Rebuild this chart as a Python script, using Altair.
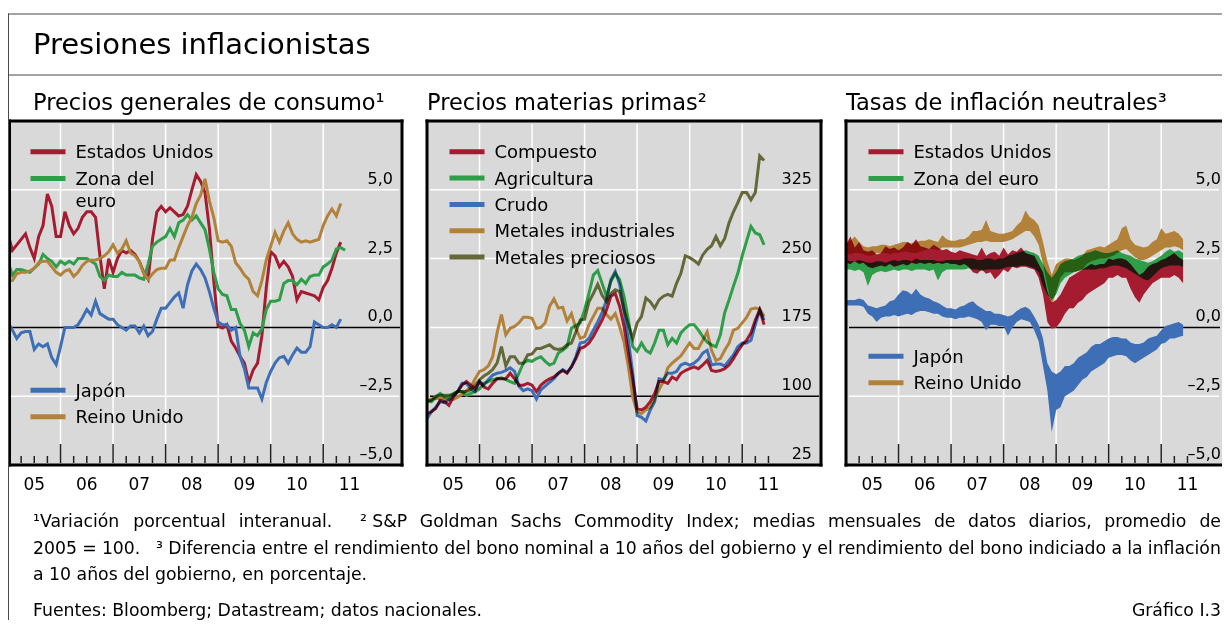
import altair as alt
import pandas as pd

FONT = "DejaVu Sans"
BG = "#d9d9d9"
FRAME = "#4a4a4a"
# colours as they appear on the grey panel
RED, GREEN, BLUE, GOLD, OLIVE = "#a51c30", "#2f9e48", "#3e6fb6", "#b3823a", "#656838"
# source colours for multiply blending over the grey panel (appearance = source x grey)
M_RED, M_GREEN, M_BLUE, M_GOLD, M_OLIVE = "#c22138", "#37ba55", "#4982d6", "#d29944", "#777a42"

MAIN_TITLE = "Presiones inflacionistas"
PANEL_TITLES = ["Precios generales de consumo¹", "Precios materias primas²", "Tasas de inflación neutrales³"]

# ---------------- Panel 1: CPI, % yoy (monthly from Jan 2005) ----------------
cpi_us = [3.4, 2.8, 3.0, 3.2, 3.4, 2.9, 2.5, 3.3, 3.7, 4.85,
          4.4, 3.3, 3.3, 4.2, 3.7, 3.4, 3.6, 4.0, 4.2, 4.2,
          4.0, 2.6, 1.4, 2.5, 2.0, 2.5, 2.8, 2.7, 2.8, 2.65,
          2.4, 2.0, 1.75, 3.2, 4.2, 4.4, 4.2, 4.35, 4.2, 4.05,
          4.1, 4.4, 5.0, 5.55, 5.3, 4.9, 3.6, 1.7, 0.05, -0.02,
          0.1, -0.5, -0.75, -1.05, -1.3, -2.0, -1.55, -1.3, -0.3, 1.45,
          2.75, 2.6, 2.2, 2.4, 2.2, 1.85, 1.0, 1.3, 1.25, 1.2,
          1.15, 1.0, 1.45, 1.7, 2.15, 2.7, 3.1]
cpi_ea = [2.4, 1.9, 2.1, 2.1, 2.05, 2.0, 2.15, 2.3, 2.65, 2.5,
          2.4, 2.2, 2.4, 2.3, 2.4, 2.3, 2.5, 2.5, 2.5, 2.4,
          2.3, 1.85, 1.7, 1.9, 1.85, 1.85, 2.0, 1.9, 1.9, 1.9,
          1.8, 1.75, 2.3, 2.95, 3.1, 3.2, 3.3, 3.6, 3.3, 3.8,
          3.9, 4.1, 3.9, 4.05, 3.8, 3.55, 2.85, 2.0, 1.4, 1.2,
          1.15, 0.65, 0.65, 0.15, -0.1, -0.7, -0.2, -0.3, -0.05, 0.65,
          0.95, 0.95, 1.0, 1.6, 1.7, 1.7, 1.55, 1.75, 1.6, 1.85,
          1.9, 1.9, 2.2, 2.3, 2.45, 2.85, 2.9, 2.8]
cpi_jp = [0.2, -0.1, -0.4, -0.2, -0.15, -0.15, -0.8, -0.6, -0.7, -0.6,
          -1.1, -1.35, -0.7, 0.0, 0.0, 0.0, 0.1, 0.35, 0.65, 0.45,
          0.95, 0.5, 0.4, 0.3, 0.3, 0.1, 0.0, -0.1, 0.05, 0.05,
          -0.2, 0.05, -0.3, -0.15, 0.3, 0.7, 0.7, 0.9, 1.1, 1.25,
          0.7, 1.55, 2.05, 2.3, 2.1, 1.8, 1.3, 0.7, 0.2, 0.1,
          0.1, -0.1, 0.0, -1.05, -1.5, -2.2, -2.2, -2.2, -2.6, -2.0,
          -1.6, -1.3, -1.1, -1.05, -1.3, -1.0, -0.75, -0.9, -0.9, -0.7,
          0.2, 0.1, 0.0, 0.0, 0.1, 0.0, 0.3]
cpi_uk = [1.7, 1.7, 1.95, 2.0, 2.0, 2.05, 2.15, 2.35, 2.4, 2.4,
          2.2, 2.0, 1.9, 2.05, 2.1, 1.85, 2.0, 2.25, 2.4, 2.45,
          2.45, 2.5, 2.6, 2.75, 3.0, 2.7, 2.85, 3.15, 2.7, 2.6,
          2.4, 1.95, 1.75, 1.95, 2.1, 2.15, 2.15, 2.45, 2.45, 2.9,
          3.3, 3.7, 4.0, 4.5, 4.8, 5.4, 4.6, 4.0, 3.15, 3.1,
          3.15, 2.95, 2.35, 2.15, 1.9, 1.75, 1.3, 1.15, 1.7, 2.45,
          2.95, 3.45, 3.1, 3.5, 3.8, 3.4, 3.2, 3.1, 3.15, 3.1,
          3.15, 3.2, 3.7, 4.05, 4.3, 4.05, 4.5]

# ---------------- Panel 2: S&P GSCI, 2005 = 100 ----------------
gs_comp = [81, 83, 86.5, 95.6, 94, 90, 99, 105, 112, 116,
           112, 108, 116, 110, 108, 114, 119, 119, 119, 125,
           119, 112, 112, 114, 112, 105, 112, 116, 119, 121,
           125, 128, 125, 132, 141, 152, 154, 158, 165, 174,
           183, 194, 209, 212, 198, 176, 147, 118, 86.5, 85,
           88, 94, 103, 116, 116, 114, 121, 118, 125, 128,
           130, 132, 130, 134, 139, 128, 127, 128, 130, 134,
           141, 149, 156, 161, 169, 183, 194, 178]
gs_agri = [95.6, 94, 99, 103, 99, 99, 103, 105, 105, 101,
           103, 105, 108, 114, 116, 118, 119, 120, 118, 116,
           114, 125, 136, 139, 138, 141, 143, 138, 134, 136,
           147, 150, 154, 174, 177, 180, 194, 212, 232, 237,
           223, 209, 225, 234, 227, 209, 183, 154, 149, 158,
           150, 147, 158, 172, 172, 156, 163, 158, 169, 174,
           178, 178, 172, 165, 159, 156, 154, 167, 191, 205,
           220, 234, 253, 269, 285, 278, 276, 265]
gs_crude = [75.5, 83, 88, 94, 93, 96, 100, 105, 114, 114,
            108, 105, 116, 112, 118, 123, 125, 126, 128, 131,
            127, 111, 106, 108, 106, 97, 107, 111, 115, 119,
            125, 129, 126, 132, 143, 158, 159, 163, 172, 181,
            191, 205, 227, 236, 222, 194, 161, 125, 79, 77,
            73, 85, 94, 119, 118, 125, 125, 127, 134, 136,
            134, 136, 140, 147, 150, 134, 135, 135, 133, 139,
            145, 154, 158, 158, 161, 178, 194, 183]
gs_indmet = [95.6, 96.7, 97.4, 97.4, 97.4, 96.3, 96.3, 99, 102, 106,
             110, 119, 127, 129, 133, 143, 169, 189, 167, 174,
             176, 180, 186, 186, 185, 174, 175, 180, 198, 206,
             196, 197, 182, 190, 174, 163, 165, 178, 187, 196,
             196, 189, 184, 190, 176, 159, 132, 99, 83, 81,
             85, 88, 97, 107, 116, 131, 136, 140, 144, 151,
             158, 152, 152, 161, 170, 150, 139, 141, 150, 158,
             172, 174, 180, 186, 195, 196, 195, 187]
gs_precmet = [93.8, 95.6, 100, 101, 101, 101, 102, 105, 105, 105,
              107, 112, 118, 122, 125, 129, 136, 154, 133, 143,
              143, 136, 136, 145, 146, 152, 152, 154, 156, 152,
              151, 152, 156, 158, 170, 183, 184, 203, 212, 222,
              210, 203, 212, 216, 214, 194, 178, 163, 180, 187,
              207, 203, 196, 205, 209, 211, 209, 223, 234, 253,
              251, 248, 244, 254, 260, 264, 274, 264, 272, 289,
              301, 311, 322, 322, 314, 322, 362, 357]

# ---------------- Panel 3: breakeven inflation, monthly low / high of daily data ----------------
be_us_lo = [2.35, 2.3, 2.4, 2.3, 2.35, 2.2, 2.15, 2.2, 2.25, 2.2,
            2.3, 2.2, 2.25, 2.3, 2.25, 2.35, 2.3, 2.35, 2.3, 2.35,
            2.3, 2.35, 2.3, 2.35, 2.3, 2.3, 2.25, 2.3, 2.2, 2.0,
            1.95, 2.1, 1.95, 2.0, 1.75, 1.9, 2.1, 2.0, 2.2, 2.15,
            2.2, 2.2, 2.15, 2.1, 1.8, 1.2, 0.2, -0.05, 0.0, 0.2,
            0.5, 0.7, 0.7, 0.9, 1.0, 1.2, 1.3, 1.4, 1.5, 1.6,
            1.8, 1.8, 1.9, 1.8, 1.8, 1.4, 1.1, 0.9, 1.2, 1.4,
            1.6, 1.7, 1.8, 1.8, 1.8, 1.9, 1.8, 1.6]
be_us_hi = [3.0, 3.3, 2.9, 3.1, 2.8, 2.75, 2.8, 2.65, 2.7, 2.95,
            2.85, 2.9, 2.8, 2.9, 3.1, 3.0, 3.2, 2.95, 2.9, 2.85,
            3.0, 2.9, 2.8, 2.85, 2.75, 2.7, 2.8, 2.75, 2.7, 2.65,
            2.6, 2.9, 2.6, 2.7, 2.75, 2.6, 2.9, 2.65, 2.8, 2.75,
            2.9, 2.7, 2.65, 2.6, 2.3, 2.0, 1.3, 0.9, 1.0, 1.2,
            1.5, 1.8, 1.9, 2.0, 2.1, 2.2, 2.3, 2.25, 2.3, 2.3,
            2.5, 2.45, 2.5, 2.5, 2.45, 2.3, 2.1, 1.9, 2.0, 2.2,
            2.3, 2.35, 2.45, 2.5, 2.6, 2.7, 2.55, 2.45]
be_ea_lo = [2.1, 2.1, 2.05, 2.1, 2.0, 1.5, 1.9, 2.0, 2.05, 2.0,
            2.05, 2.1, 2.05, 2.1, 2.1, 2.05, 2.1, 2.1, 2.1, 2.05,
            2.1, 1.7, 2.0, 2.1, 2.1, 2.1, 2.1, 2.1, 2.15, 2.1,
            2.1, 2.05, 2.1, 2.1, 2.1, 2.1, 2.15, 2.2, 2.2, 2.2,
            2.25, 2.25, 2.2, 2.15, 2.0, 1.5, 1.2, 1.0, 1.2, 1.6,
            1.8, 1.9, 2.0, 2.05, 2.1, 2.1, 2.1, 2.1, 2.15, 2.15,
            2.2, 2.25, 2.25, 2.2, 2.15, 2.05, 1.95, 1.85, 1.75, 1.7,
            1.85, 2.0, 2.15, 2.2, 2.25, 2.25, 2.25, 2.2]
be_ea_hi = [2.45, 2.4, 2.4, 2.45, 2.4, 2.35, 2.35, 2.4, 2.4, 2.35,
            2.4, 2.45, 2.4, 2.45, 2.45, 2.4, 2.5, 2.45, 2.45, 2.45,
            2.45, 2.4, 2.4, 2.45, 2.45, 2.45, 2.45, 2.5, 2.5, 2.5,
            2.45, 2.45, 2.5, 2.5, 2.45, 2.5, 2.5, 2.6, 2.65, 2.7,
            2.75, 2.8, 2.75, 2.7, 2.6, 2.3, 2.0, 1.8, 2.0, 2.3,
            2.4, 2.45, 2.5, 2.6, 2.65, 2.7, 2.75, 2.8, 2.75, 2.7,
            2.7, 2.75, 2.8, 2.7, 2.65, 2.6, 2.5, 2.45, 2.4, 2.35,
            2.4, 2.5, 2.6, 2.75, 2.85, 2.75, 2.8, 2.7]
be_uk_lo = [2.7, 2.65, 2.7, 2.7, 2.65, 2.6, 2.6, 2.7, 2.7, 2.7,
            2.65, 2.7, 2.7, 2.75, 2.75, 2.7, 2.7, 2.75, 2.8, 2.85,
            2.85, 2.8, 2.9, 2.9, 2.9, 2.9, 2.9, 2.95, 3.0, 3.05,
            3.1, 3.1, 3.15, 3.1, 3.1, 3.1, 3.1, 3.15, 3.2, 3.3,
            3.4, 3.5, 3.5, 3.3, 3.0, 2.3, 1.5, 0.8, 1.3, 1.8,
            2.0, 2.0, 2.0, 2.05, 2.1, 2.3, 2.4, 2.45, 2.5, 2.5,
            2.55, 2.6, 2.7, 2.8, 2.85, 2.7, 2.55, 2.45, 2.45, 2.5,
            2.6, 2.7, 2.8, 2.9, 2.9, 2.95, 2.9, 2.8]
be_uk_hi = [3.05, 3.15, 3.3, 3.1, 2.95, 2.9, 2.95, 2.95, 3.0, 3.0,
            2.95, 3.0, 3.05, 3.1, 3.1, 3.05, 3.1, 3.15, 3.15, 3.2,
            3.15, 3.1, 3.35, 3.2, 3.15, 3.15, 3.2, 3.2, 3.3, 3.5,
            3.5, 3.55, 3.9, 3.5, 3.45, 3.4, 3.4, 3.45, 3.5, 3.7,
            3.85, 4.25, 4.0, 3.9, 3.7, 3.1, 2.4, 1.9, 2.3, 2.4,
            2.5, 2.5, 2.45, 2.5, 2.6, 2.8, 2.85, 2.9, 2.95, 2.9,
            3.0, 3.1, 3.2, 3.6, 3.7, 3.2, 3.0, 2.95, 2.9, 2.95,
            3.1, 3.2, 3.6, 3.4, 3.45, 3.5, 3.4, 3.2]
be_jp_lo = [0.8, 0.8, 0.8, 0.8, 0.75, 0.5, 0.4, 0.2, 0.35, 0.4,
            0.4, 0.45, 0.4, 0.45, 0.5, 0.45, 0.55, 0.6, 0.6, 0.55,
            0.5, 0.5, 0.4, 0.35, 0.35, 0.3, 0.35, 0.35, 0.4, 0.35,
            0.3, 0.2, -0.1, 0.1, 0.1, 0.05, 0.05, -0.3, 0.0, 0.2,
            0.3, 0.25, 0.2, -0.1, -0.5, -1.4, -2.3, -3.8, -3.0, -2.9,
            -2.5, -2.4, -2.3, -2.1, -1.9, -1.8, -1.6, -1.5, -1.4, -1.3,
            -1.1, -1.05, -1.0, -1.0, -1.05, -1.2, -1.3, -1.2, -1.1, -1.0,
            -0.9, -0.8, -0.6, -0.55, -0.4, -0.4, -0.35, -0.3]
be_jp_hi = [1.0, 1.0, 1.0, 1.05, 1.0, 0.8, 0.75, 0.7, 0.75, 0.8,
            0.95, 1.0, 1.2, 1.35, 1.3, 1.2, 1.4, 1.2, 1.1, 1.05,
            0.95, 0.9, 0.8, 0.7, 0.7, 0.65, 0.75, 0.8, 0.9, 0.95,
            0.8, 0.7, 0.6, 0.6, 0.5, 0.5, 0.45, 0.4, 0.45, 0.6,
            0.7, 0.75, 0.65, 0.4, 0.1, -0.4, -1.3, -1.6, -1.7, -1.6,
            -1.4, -1.4, -1.3, -1.1, -1.0, -0.9, -0.7, -0.6, -0.6, -0.5,
            -0.4, -0.35, -0.35, -0.4, -0.4, -0.55, -0.6, -0.6, -0.55, -0.4,
            -0.35, -0.3, -0.1, 0.05, 0.1, 0.15, 0.2, 0.1]

# ---------------- axes ----------------
YEAR_LINES = [2006, 2007, 2008, 2009, 2010, 2011]
YEAR_LABEL_POS = [2005.5, 2006.5, 2007.5, 2008.5, 2009.5, 2010.5, 2011.5]
YEAR_LABELS = ["05", "06", "07", "08", "09", "10", "11"]
QUARTER_TICKS = [y + q / 4 for y in range(2005, 2012) for q in (1, 2, 3) if y + q / 4 <= 2011.5]
PCT_TICKS = [-5.0, -2.5, 0.0, 2.5, 5.0]
PCT_LABELS = ["\u20135,0", "\u20132,5", "0,0", "2,5", "5,0"]
IDX_TICKS = [25, 100, 175, 250, 325]
IDX_LABELS = ["25", "100", "175", "250", "325"]

# footnotes: (word, gap weight before it); lines 1-2 are justified
FOOT_LINE1 = [("¹Variación", 0), ("porcentual", 1), ("interanual.", 1), ("² S&P", 2.2), ("Goldman", 1),
              ("Sachs", 1), ("Commodity", 1), ("Index;", 1), ("medias", 1), ("mensuales", 1), ("de", 1),
              ("datos", 1), ("diarios,", 1), ("promedio", 1), ("de", 1)]
FOOT_LINE2 = [("2005", 0), ("=", 1), ("100.", 1), ("³ Diferencia", 3), ("entre", 1), ("el", 1),
              ("rendimiento", 1), ("del", 1), ("bono", 1), ("nominal", 1), ("a", 1), ("10", 1), ("años", 1),
              ("del", 1), ("gobierno", 1), ("y", 1), ("el", 1), ("rendimiento", 1), ("del", 1), ("bono", 1),
              ("indiciado", 1), ("a", 1), ("la", 1), ("inflación", 1)]
FOOT_LINE3 = "a 10 años del gobierno, en porcentaje."
SOURCES = "Fuentes: Bloomberg; Datastream; datos nacionales."
CHART_ID = "Gráfico I.3"

# ---------------- layout ----------------
W, W3, H = 394, 376, 344
HEAD_H, FOOT_H = 113, 155
TOTAL_W = 1214
X0, X1 = 2005.0, 2012.5
X1_3 = X0 + (X1 - X0) * W3 / W
ONE = pd.DataFrame({"k": [0]})
FOOT_FS = 17.3

# approximate DejaVu Sans advance widths (em) used to justify the footnote lines
ADV = {" ": .318, "&": .780, ",": .318, ".": .318, ";": .337, "=": .838, "A": .684, "C": .698,
       "D": .770, "G": .776, "I": .295, "P": .603, "S": .635, "V": .684, "a": .613, "b": .635,
       "c": .550, "d": .635, "e": .615, "f": .352, "g": .635, "h": .634, "i": .278, "l": .278,
       "m": .974, "n": .634, "o": .612, "p": .635, "r": .411, "s": .521, "t": .392, "u": .634,
       "x": .592, "y": .592, "á": .613, "ó": .612, "ñ": .634, "¹": .401, "²": .401, "³": .401}


def text_w(s, fs):
    return sum(ADV.get(ch, .636) for ch in s) * fs


def justify(tokens, x_left, x_right, fs):
    widths = [text_w(t, fs) for t, _ in tokens]
    gap = (x_right - x_left - sum(widths)) / sum(wt for _, wt in tokens)
    xs, x = [], x_left
    for (t, wt), w in zip(tokens, widths):
        x += wt * gap
        xs.append(x)
        x += w
    return xs


def months(n):
    return [X0 + i / 12 for i in range(n)]


def lines_df(series):
    rows = []
    for name, col, vals in series:
        for t, v in zip(months(len(vals)), vals):
            rows.append({"t": t, "v": v, "s": name, "c": col})
    return pd.DataFrame(rows)


def bands_df(series):
    rows = []
    for name, col, lo, hi in series:
        for t, a, b in zip(months(len(lo)), lo, hi):
            rows.append({"t": t, "lo": a, "hi": b, "s": name, "c": col})
    return pd.DataFrame(rows)


def box(color, x, x2, y, y2):
    return alt.Chart(ONE).mark_rect(color=color).encode(
        x=alt.value(x), x2=alt.value(x2), y=alt.value(y), y2=alt.value(y2))


def panel(width, xmax, ydom, yticks, ylabels, ywhite, yzero, data_fn, legend_items, label_x,
          first, last, title_x, title_text, extra=()):
    xs = alt.Scale(domain=[X0, xmax], nice=False, zero=False)
    ys = alt.Scale(domain=ydom, nice=False, zero=False)
    hgrid = alt.Chart(pd.DataFrame({"v": ywhite})).mark_rule(color="white", strokeWidth=1.5).encode(
        y=alt.Y("v:Q", scale=ys, axis=None), x=alt.value(3), x2=alt.value(width - 3))
    vgrid = alt.Chart(pd.DataFrame({"t": YEAR_LINES})).mark_rule(color="white", strokeWidth=1.5).encode(
        x=alt.X("t:Q", scale=xs, axis=None), y=alt.value(3), y2=alt.value(H - 3))
    zero = alt.Chart(pd.DataFrame({"v": [yzero]})).mark_rule(color="black", strokeWidth=1.5).encode(
        y=alt.Y("v:Q", scale=ys, axis=None), x=alt.value(3), x2=alt.value(width - 2))
    data = data_fn(xs, ys)
    major = alt.Chart(pd.DataFrame({"t": YEAR_LINES})).mark_rule(color="#222222", strokeWidth=1.5).encode(
        x=alt.X("t:Q", scale=xs, axis=None), y=alt.value(H - 21), y2=alt.value(H - 2))
    minor = alt.Chart(pd.DataFrame({"t": QUARTER_TICKS})).mark_rule(color="#222222", strokeWidth=1.5).encode(
        x=alt.X("t:Q", scale=xs, axis=None), y=alt.value(H - 9), y2=alt.value(H - 2))
    ylab = alt.Chart(pd.DataFrame({"v": yticks, "lab": ylabels})).mark_text(
        align="right", baseline="alphabetic", dy=-6, font=FONT, fontSize=16, color="black").encode(
        y=alt.Y("v:Q", scale=ys, axis=None), x=alt.value(label_x), text="lab:N")
    xlab = alt.Chart(pd.DataFrame({"t": YEAR_LABEL_POS, "lab": YEAR_LABELS})).mark_text(
        align="center", baseline="alphabetic", font=FONT, fontSize=17, color="black").encode(
        x=alt.X("t:Q", scale=xs, axis=None), y=alt.value(H + 25), text="lab:N")
    leg = pd.DataFrame(legend_items, columns=["label", "c", "yb"])
    sw = leg[leg["c"] != ""].copy()
    sw["ys"] = sw["yb"] - 6.5
    swatch = alt.Chart(sw).mark_rule(strokeWidth=5).encode(
        x=alt.value(22.5), x2=alt.value(57.5), y=alt.Y("ys:Q", scale=None),
        color=alt.Color("c:N", scale=None))
    ltext = alt.Chart(leg).mark_text(align="left", baseline="alphabetic", font=FONT, fontSize=18,
                                     color="black").encode(
        x=alt.value(67.5), y=alt.Y("yb:Q", scale=None), text="label:N")
    ptitle = alt.Chart(pd.DataFrame({"txt": [title_text]})).mark_text(
        align="left", baseline="alphabetic", font=FONT, fontSize=22.5, color="black").encode(
        x=alt.value(title_x), y=alt.value(101.8 - HEAD_H), text="txt:N")
    xl = 0 if first else -1.5
    xr = width if last else width + 1.5
    borders = [box("black", xl, xr, -1.5, 1.5), box("black", xl, xr, H - 1.5, H + 1.5),
               box("black", xl, xl + 3, -1.5, H + 1.5)]
    if not last:
        borders.append(box("black", width - 1.5, width + 1.5, -1.5, H + 1.5))
    layers = [hgrid, vgrid, zero] + list(data) + [major, minor, ylab, xlab, swatch, ltext, ptitle] \
        + borders + list(extra)
    return alt.layer(*layers).properties(width=width, height=H,
                                         view=alt.ViewBackground(fill=BG, strokeWidth=0))


def line_layers(df, blend):
    def fn(xs, ys):
        enc = dict(x=alt.X("t:Q", scale=xs, axis=None), y=alt.Y("v:Q", scale=ys, axis=None),
                   detail="s:N")
        if not blend:
            return [alt.Chart(df).mark_line(strokeWidth=3, clip=True).encode(
                color=alt.Color("c:N", scale=None), **enc)]
        under = alt.Chart(df).mark_line(strokeWidth=3, color=BG).encode(**enc)
        over = alt.Chart(df).mark_line(strokeWidth=3, blend="multiply").encode(
            color=alt.Color("c:N", scale=None), **enc)
        return [under, over]
    return fn


def band_layers(df):
    def fn(xs, ys):
        enc = dict(x=alt.X("t:Q", scale=xs, axis=None), y=alt.Y("lo:Q", scale=ys, axis=None),
                   y2="hi:Q", detail="s:N")
        under = alt.Chart(df).mark_area(color=BG, opacity=1).encode(**enc)
        over = alt.Chart(df).mark_area(blend="multiply", opacity=1).encode(
            color=alt.Color("c:N", scale=None), **enc)
        return [under, over]
    return fn


# ---------------- header and footer (drawn from the first panel, outside its view) ----------------
TOP = -HEAD_H
x_l1 = justify(FOOT_LINE1, 25, TOTAL_W - 1, FOOT_FS)
x_l2 = justify(FOOT_LINE2, 25, TOTAL_W - 1, FOOT_FS)
foot_words = pd.DataFrame(
    [{"txt": t, "x": x, "yb": H + 62.3} for (t, _), x in zip(FOOT_LINE1, x_l1)] +
    [{"txt": t, "x": x, "yb": H + 89.3} for (t, _), x in zip(FOOT_LINE2, x_l2)] +
    [{"txt": FOOT_LINE3, "x": 25, "yb": H + 115}, {"txt": SOURCES, "x": 25, "yb": H + 150.5}])

header_footer = [
    box("white", 0, 1, TOP, TOP + 1),
    box(FRAME, 0, TOTAL_W, TOP + 5.5, TOP + 6.5),
    box(FRAME, 0, TOTAL_W, TOP + 66.5, TOP + 67.5),
    box(FRAME, 0, 1, TOP + 5.5, H + FOOT_H),
    alt.Chart(pd.DataFrame({"txt": [MAIN_TITLE]})).mark_text(
        align="left", baseline="alphabetic", font=FONT, fontSize=29, color="black").encode(
        x=alt.value(25), y=alt.value(TOP + 46.3), text="txt:N"),
    alt.Chart(foot_words).mark_text(
        align="left", baseline="alphabetic", font=FONT, fontSize=FOOT_FS, color="black").encode(
        x=alt.X("x:Q", scale=None), y=alt.Y("yb:Q", scale=None), text="txt:N"),
    alt.Chart(pd.DataFrame({"txt": [CHART_ID]})).mark_text(
        align="right", baseline="alphabetic", font=FONT, fontSize=FOOT_FS, color="black").encode(
        x=alt.value(TOTAL_W - 1), y=alt.value(H + 150.5), text="txt:N"),
]

p1 = panel(W, X1, [-5, 7.5], PCT_TICKS, PCT_LABELS, [-2.5, 2.5, 5.0], 0,
           line_layers(lines_df([("Estados Unidos", RED, cpi_us), ("Zona del euro", GREEN, cpi_ea),
                                 ("Japón", BLUE, cpi_jp), ("Reino Unido", GOLD, cpi_uk)]), False),
           [("Estados Unidos", RED, 37.3), ("Zona del", GREEN, 64), ("euro", "", 85.5),
            ("Japón", BLUE, 275.7), ("Reino Unido", GOLD, 302.3)], 385, True, False, 25, PANEL_TITLES[0],
           extra=header_footer)

p2 = panel(W, X1, [25, 400], IDX_TICKS, IDX_LABELS, [175, 250, 325], 100,
           line_layers(lines_df([("Compuesto", M_RED, gs_comp), ("Agricultura", M_GREEN, gs_agri),
                                 ("Crudo", M_BLUE, gs_crude), ("Metales industriales", M_GOLD, gs_indmet),
                                 ("Metales preciosos", M_OLIVE, gs_precmet)]), True),
           [("Compuesto", RED, 37.3), ("Agricultura", GREEN, 63.6), ("Crudo", BLUE, 89.9),
            ("Metales industriales", GOLD, 116.2), ("Metales preciosos", OLIVE, 142.5)], 385, False, False,
           0, PANEL_TITLES[1])

p3 = panel(W3, X1_3, [-5, 7.5], PCT_TICKS, PCT_LABELS, [-2.5, 2.5, 5.0], 0,
           band_layers(bands_df([("Reino Unido", M_GOLD, be_uk_lo, be_uk_hi),
                                 ("Estados Unidos", M_RED, be_us_lo, be_us_hi),
                                 ("Zona del euro", M_GREEN, be_ea_lo, be_ea_hi),
                                 ("Japón", M_BLUE, be_jp_lo, be_jp_hi)])),
           [("Estados Unidos", RED, 37.3), ("Zona del euro", GREEN, 64),
            ("Japón", BLUE, 241.7), ("Reino Unido", GOLD, 268.3)], W3 - 1, False, True,
           0, PANEL_TITLES[2])

chart = alt.hconcat(p1, p2, p3, spacing=25, bounds="flush").properties(
    padding=0, background="white"
).configure_view(strokeWidth=0)

chart.save("out.html", embed_options={"renderer": "svg", "actions": False})
